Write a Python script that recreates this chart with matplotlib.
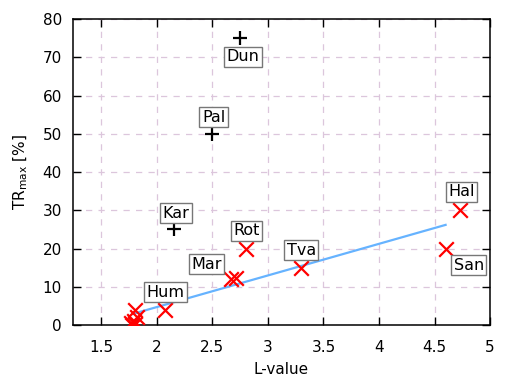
import matplotlib
matplotlib.use('Agg')
import matplotlib.pyplot as plt

# sites above the trend (black +)
plus_x = [2.75, 2.5, 2.15]
plus_y = [75, 50, 25]

# sites on the trend (red x)
cross_x = [2.8, 2.67, 2.71, 3.3, 4.73, 4.6, 2.07, 1.8, 1.82, 1.79, 1.77, 1.8, 1.78]
cross_y = [20, 12, 12.2, 15, 30, 20, 4, 4, 2, 1, 0.5, 0.2, 0]

# linear fit endpoints
fit_x = [1.78, 4.6]
fit_y = [2.9, 26.2]

# labels and where they sit
names = ['Dun', 'Pal', 'Kar', 'Rot', 'Mar', 'Hum', 'Tva', 'Hal', 'San']
name_x = [2.775, 2.51, 2.17, 2.81, 2.45, 2.08, 3.30, 4.74, 4.81]
name_y = [70.1, 54.4, 29.3, 24.6, 15.9, 8.6, 19.6, 34.8, 15.7]

fig = plt.figure(figsize=(5.18, 3.82), dpi=100)
ax = fig.add_axes([0.141, 0.149, 0.805, 0.801])

ax.grid(True, linestyle=(0, (5, 5)), color='#dcc6dc', linewidth=0.9)
ax.set_axisbelow(True)

ax.plot(fit_x, fit_y, color='#66b3ff', linewidth=1.6, zorder=2)
ax.scatter(plus_x, plus_y, marker='+', s=100, color='black', linewidths=1.6, zorder=3)
ax.scatter(cross_x, cross_y, marker='x', s=110, color='red', linewidths=1.6, zorder=3)

for n, x, y in zip(names, name_x, name_y):
    ax.text(x, y, n, ha='center', va='center', fontsize=11.5, zorder=4,
            bbox=dict(boxstyle='square,pad=0.15', facecolor='white', edgecolor='#777777', linewidth=1))

ax.set_xlim(1.245, 5)
ax.set_ylim(0, 80)
ax.set_xticks([1.5, 2, 2.5, 3, 3.5, 4, 4.5, 5])
ax.set_xticklabels(['1.5', '2', '2.5', '3', '3.5', '4', '4.5', '5'])
ax.set_yticks(range(0, 81, 10))
ax.tick_params(direction='in', top=True, right=True, length=6, labelsize=11, width=1)
ax.tick_params(axis='x', pad=11)
ax.tick_params(axis='y', pad=8)
for s in ax.spines.values():
    s.set_linewidth(1.1)

ax.set_xlabel('L-value', fontsize=11, labelpad=5)
ax.set_ylabel(r'TR$_{\mathrm{max}}$ [%]', fontsize=11, labelpad=9)

fig.savefig('out.png', dpi=100)
